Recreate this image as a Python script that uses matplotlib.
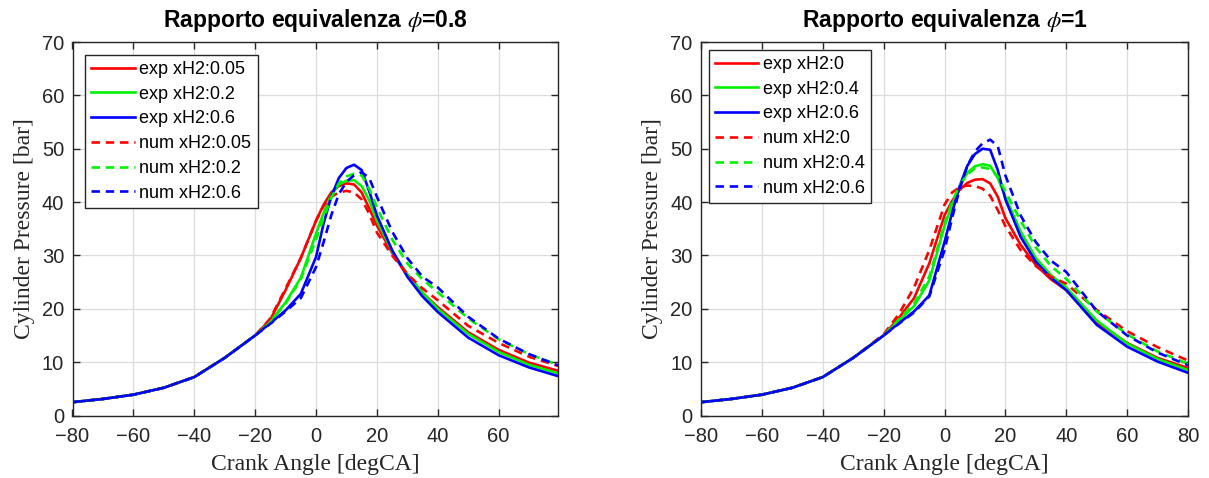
import matplotlib
matplotlib.use("Agg")
import matplotlib.pyplot as plt

# ---------------- data ----------------
crank = [-80, -70, -60, -50, -40, -30, -20, -15, -10, -5, 0, 2.5, 5, 7.5, 10,
         12.5, 15, 17.5, 20, 25, 30, 35, 40, 50, 60, 70, 80]

# phi = 0.8
exp_005 = [2.5, 3.1, 3.9, 5.2, 7.2, 10.8, 15.0, 18.0, 23.5, 29.5, 36.5, 39.5, 41.8, 43.0, 43.5,
           43.3, 41.8, 38.8, 35.6, 30.5, 26.3, 23.0, 20.3, 15.6, 12.3, 9.9, 8.3]
exp_02 = [2.5, 3.1, 3.9, 5.2, 7.2, 10.8, 15.0, 17.6, 21.2, 25.8, 34.1, 38.0, 41.3, 43.3, 44.0,
          44.1, 43.0, 40.3, 36.5, 30.8, 26.5, 23.0, 20.0, 15.3, 11.9, 9.5, 7.8]
exp_06 = [2.5, 3.1, 3.9, 5.2, 7.2, 10.8, 15.0, 17.3, 19.7, 22.8, 29.7, 36.0, 41.0, 44.5, 46.4,
          47.0, 46.0, 42.0, 37.5, 31.0, 26.0, 22.3, 19.4, 14.6, 11.3, 9.0, 7.3]
num_005 = [2.5, 3.1, 3.9, 5.2, 7.2, 10.8, 15.0, 18.2, 23.8, 29.5, 36.5, 39.3, 41.0, 41.8, 42.1,
           41.8, 40.5, 37.8, 34.3, 30.0, 26.5, 23.8, 21.6, 16.8, 13.6, 11.0, 9.2]
num_02 = [2.5, 3.1, 3.9, 5.2, 7.2, 10.8, 15.0, 17.5, 21.0, 25.5, 33.0, 37.0, 40.8, 43.5, 44.8,
          45.3, 45.0, 42.5, 39.0, 33.0, 28.5, 25.5, 23.1, 18.2, 14.3, 11.5, 9.4]
num_06 = [2.5, 3.1, 3.9, 5.2, 7.2, 10.8, 15.0, 17.2, 19.5, 22.0, 27.8, 32.5, 37.5, 41.5, 43.8,
          45.0, 45.6, 44.5, 41.0, 34.5, 29.5, 26.0, 24.0, 18.5, 14.4, 11.5, 9.3]

# phi = 1
exp_0 = [2.5, 3.1, 3.9, 5.2, 7.2, 10.8, 15.0, 18.3, 22.0, 28.5, 37.5, 40.2, 42.3, 43.6, 44.2,
         44.3, 43.5, 41.0, 37.0, 32.0, 28.2, 25.5, 23.5, 17.5, 13.6, 10.8, 8.9]
exp_04 = [2.5, 3.1, 3.9, 5.2, 7.2, 10.8, 15.0, 17.8, 20.5, 25.3, 35.5, 39.5, 43.0, 45.5, 46.7,
          47.1, 46.8, 44.5, 41.0, 34.5, 29.5, 26.3, 24.0, 17.8, 13.5, 10.6, 8.5]
exp_06b = [2.5, 3.1, 3.9, 5.2, 7.2, 10.8, 15.0, 17.3, 19.5, 22.5, 32.5, 38.0, 43.0, 46.8, 49.0,
           50.0, 49.8, 46.0, 40.5, 33.5, 28.8, 25.8, 23.5, 17.0, 12.9, 10.1, 8.0]
num_0 = [2.5, 3.1, 3.9, 5.2, 7.2, 10.8, 15.2, 19.0, 24.0, 31.0, 39.5, 41.8, 42.8, 43.1, 43.0,
         42.5, 41.2, 38.5, 35.5, 31.0, 28.0, 26.0, 24.7, 19.8, 15.8, 12.8, 10.3]
num_04 = [2.5, 3.1, 3.9, 5.2, 7.2, 10.8, 15.0, 18.0, 21.0, 26.0, 36.0, 40.0, 43.2, 45.2, 46.3,
          46.5, 46.2, 44.8, 42.0, 36.5, 31.5, 28.0, 25.6, 19.5, 15.2, 12.0, 9.7]
num_06b = [2.5, 3.1, 3.9, 5.2, 7.2, 10.8, 15.0, 17.2, 19.3, 22.3, 31.0, 37.0, 42.5, 46.8, 49.5,
           51.0, 51.7, 50.5, 45.0, 37.5, 32.5, 29.0, 26.9, 19.6, 15.0, 11.8, 9.4]

titles = [r"Rapporto equivalenza $\phi$=0.8", r"Rapporto equivalenza $\phi$=1"]
labels_l = ["exp xH2:0.05", "exp xH2:0.2", "exp xH2:0.6",
            "num xH2:0.05", "num xH2:0.2", "num xH2:0.6"]
labels_r = ["exp xH2:0", "exp xH2:0.4", "exp xH2:0.6",
            "num xH2:0", "num xH2:0.4", "num xH2:0.6"]
xticks_l = [-80, -60, -40, -20, 0, 20, 40, 60]
xticks_r = [-80, -60, -40, -20, 0, 20, 40, 60, 80]
yticks = [0, 10, 20, 30, 40, 50, 60, 70]

# ---------------- style ----------------
colors = [(1, 0, 0), (0, 0.95, 0), (0, 0, 1)]
plt.rcParams['font.family'] = ['Liberation Sans', 'DejaVu Sans']
plt.rcParams['mathtext.fontset'] = 'stix'

fig = plt.figure(figsize=(12.09, 4.78), dpi=100)
axL = fig.add_axes([72.5 / 1209, 62.5 / 478, 485.5 / 1209, 373.5 / 478])
axR = fig.add_axes([701 / 1209, 62.5 / 478, 487 / 1209, 373.5 / 478])

setups = [
    (axL, [exp_005, exp_02, exp_06], [num_005, num_02, num_06], labels_l, xticks_l, (-80, 79.5), titles[0], 0.7),
    (axR, [exp_0, exp_04, exp_06b], [num_0, num_04, num_06b], labels_r, xticks_r, (-80, 80), titles[1], 0.42),
]

for ax, exps, nums, labs, xt, xl, ttl, bap in setups:
    for i, y in enumerate(exps):
        ax.plot(crank, y, color=colors[i], lw=1.9, ls='-', label=labs[i])
    for i, y in enumerate(nums):
        ax.plot(crank, y, color=colors[i], lw=1.9, ls=(0, (3.2, 2.2)), label=labs[3 + i])
    ax.set_xlim(*xl)
    ax.set_ylim(0, 70)
    ax.set_xticks(xt)
    ax.set_yticks(yticks)
    ax.grid(True, color='#dcdcdc', lw=0.9)
    ax.set_axisbelow(True)
    ax.tick_params(direction='in', top=True, right=True, labelsize=14.5,
                   length=5, width=1.0, colors='#262626')
    ax.tick_params(axis='x', pad=8)
    ax.tick_params(axis='y', pad=6)
    for s in ax.spines.values():
        s.set_color('#262626')
        s.set_linewidth(1.0)
    ax.set_title(ttl, fontsize=16.5, fontweight='bold', pad=11)
    ax.set_xlabel("Crank Angle [degCA]", family='Liberation Serif', fontsize=17, color='#262626', labelpad=6)
    ax.set_ylabel("Cylinder Pressure [bar]", family='Liberation Serif', fontsize=17, color='#262626', labelpad=5)
    leg = ax.legend(loc='upper left', fontsize=13, frameon=True, fancybox=False,
                    edgecolor='#262626', framealpha=1, borderpad=0.35, labelspacing=0.43,
                    handlelength=2.4, handletextpad=0.25, borderaxespad=bap)
    leg.get_frame().set_linewidth(1.0)

fig.savefig("out.png", dpi=100)
